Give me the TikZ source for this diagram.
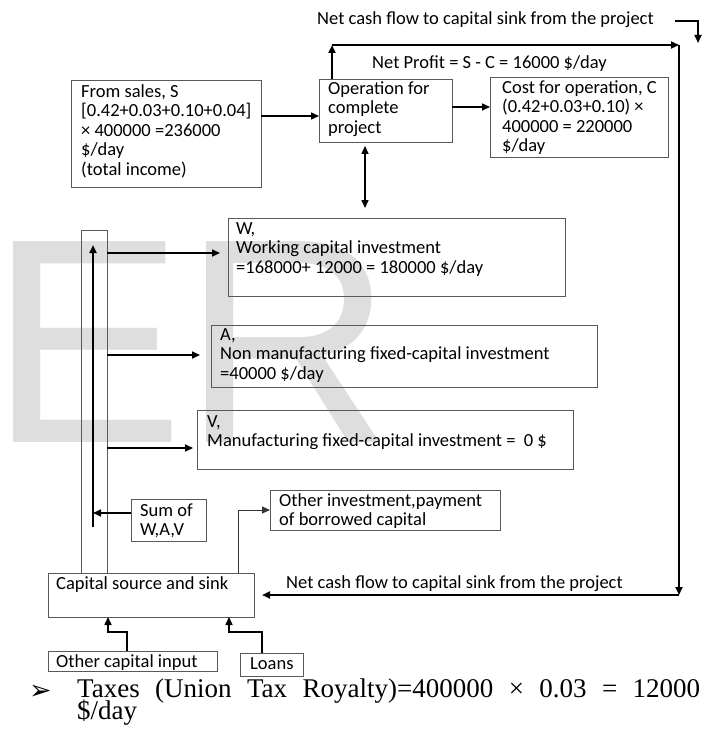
\documentclass[tikz,border=0pt]{standalone}
\usepackage{fontspec}
\usetikzlibrary{arrows.meta}
\newfontfamily\dfont{Carlito}
\newfontfamily\wmfont{Liberation Sans}
\newfontfamily\bodyfont{Liberation Serif}
\newfontfamily\symfont{DejaVu Sans}
\definecolor{boxgray}{gray}{0.35}
\definecolor{wmgray}{gray}{0.87}
\newcommand\tstr{\rule{0pt}{15pt}}
\begin{document}
\begin{tikzpicture}[x=1pt,y=-1pt,
  box/.style={draw=boxgray,line width=0.9pt,anchor=north west,inner sep=0pt,outer sep=0pt},
  txt/.style={anchor=north west,inner sep=0pt,align=left,font=\dfont\fontsize{18.5pt}{19.6pt}\selectfont},
  tip/.style={-{Triangle[length=8pt,width=7pt]}},
  arr/.style={tip,line width=1.6pt},
  heavy/.style={tip,line width=2.2pt},
  thinl/.style={tip,draw=black!80,line width=1pt},
  wm/.style={anchor=base west,inner sep=0pt,text=wmgray,font=\wmfont\fontsize{292pt}{292pt}\selectfont}]
\useasboundingbox (0,0) rectangle (719,738);

% watermark letters (side bearing of the E pulled back so its box starts at the ink)
\node[wm] (wmE) at (12,442) {\hspace*{-23pt}E};
\node[wm] (wmR) at (182,442) {R};

% boxes
\node[box,minimum width=190pt,minimum height=107pt] (sales) at (71,80) {};
\node[box,minimum width=133pt,minimum height=63pt] (op) at (319,79) {};
\node[box,minimum width=178pt,minimum height=80pt] (cost) at (490,77) {};
\node[box,minimum width=337pt,minimum height=78pt] (wbox) at (228,218) {};
\node[box,minimum width=386pt,minimum height=62pt] (abox) at (211,325) {};
\node[box,minimum width=376pt,minimum height=59pt] (vbox) at (197,410) {};
\node[box,minimum width=26pt,minimum height=343pt] (column) at (81,230) {};
\node[box,minimum width=75pt,minimum height=42pt] (sumbox) at (131,499) {};
\node[box,minimum width=230pt,minimum height=40pt] (othinv) at (270,490) {};
\node[box,minimum width=206pt,minimum height=44pt] (capbox) at (48,573) {};
\node[box,minimum width=169pt,minimum height=20pt] (othcap) at (48,651) {};
\node[box,minimum width=63pt,minimum height=23pt] (loans) at (240,653) {};

% texts
\node[txt] (salesT) at (81,82) {\tstr From sales, S\\{[}0.42+0.03+0.10+0.04{]}\\× 400000 =236000\\\$/day\\(total income)};
\node[txt] (opT) at (328,79) {\tstr Operation for\\complete\\project};
\node[txt] (costT) at (502,78) {\tstr Cost for operation, C\\(0.42+0.03+0.10) ×\\400000 = 220000\\\$/day};
\node[txt] (profitT) at (372,53) {\tstr Net Profit = S - C = 16000 \$/day};
\node[txt] (topT) at (317,9) {\tstr Net cash flow to capital sink from the project};
\node[txt] (wT) at (236,219) {\tstr W,\\Working capital investment\\=168000+ 12000 = 180000 \$/day};
\node[txt] (aT) at (220,325) {\tstr A,\\Non manufacturing fixed-capital investment\\=40000 \$/day};
\node[txt] (vT) at (207,412) {\tstr V,\\Manufacturing fixed-capital investment = \ 0 \$};
\node[txt] (sumT) at (140,501) {\tstr Sum of\\W,A,V};
\node[txt] (othinvT) at (279,491) {\tstr Other investment,payment\\of borrowed capital};
\node[txt] (capT) at (56,574) {\tstr Capital source and sink};
\node[txt] (botT) at (286,573) {\tstr Net cash flow to capital sink from the project};
\node[txt] (othcapT) at (56,652) {\tstr Other capital input};
\node[txt] (loansT) at (250,654) {\tstr Loans};

% helper levels
\coordinate (ySales) at (0,116);
\coordinate (yCost) at (0,107);
\coordinate (xDbl) at (365,0);
\coordinate (yW) at (0,253);
\coordinate (yA) at (0,355);
\coordinate (yV) at (0,448);
\coordinate (ySum) at (0,513);
\coordinate (xOI) at (238,0);

% main flow
\draw[arr] (sales.east |- ySales) -- (op.west |- ySales);
\draw[arr] (op.east |- yCost) -- (cost.west |- yCost);
\draw[arr,{Triangle[length=8pt,width=7pt]}-{Triangle[length=8pt,width=7pt]},shorten <=4pt,shorten >=10pt]
  (op.south -| xDbl) -- (wbox.north -| xDbl);

% net cash flow loop
\coordinate (lpA) at (332,45);
\coordinate (lpB) at (679,45);
\coordinate (lpC) at (679,595);
\draw[heavy] (op.north -| lpA) -- (lpA);
\draw[heavy] (lpA) -- (lpB);
\draw[heavy] (lpB) -- (lpC);
\draw[heavy,shorten >=8pt] (lpC) -- (capbox.east |- lpC);

% small bent arrow beside the top label
\coordinate (smA) at (675,21);
\coordinate (smB) at (698,21);
\coordinate (smC) at (698,43);
\draw[arr] (smA) -- (smB) -- (smC);

% capital column
\coordinate (upB) at (93,527);
\coordinate (upT) at (93,245);
\draw[heavy] (upB) -- (upT);
\draw[arr,shorten >=8pt] (column.east |- yW) -- (wbox.west |- yW);
\draw[arr,shorten >=11pt] (column.east |- yA) -- (abox.west |- yA);
\draw[arr,shorten >=4pt] (column.east |- yV) -- (vbox.west |- yV);
\draw[arr] (sumbox.west |- ySum) -- (upB |- ySum);

% other investment
\draw[thinl] (capbox.north -| xOI) |- (othinv.west);

% inputs to the capital source
\coordinate (ocA) at (127,632);
\coordinate (ocB) at (108,632);
\draw[arr] (othcap.north -| ocA) -- (ocA) -- (ocB) -- (capbox.south -| ocB);
\coordinate (lnA) at (262,632);
\coordinate (lnB) at (229,632);
\draw[arr] (loans.north -| lnA) -- (lnA) -- (lnB) -- (capbox.south -| lnB);

% bullet line
\node[anchor=base west,inner sep=0pt,font=\symfont\fontsize{27pt}{27pt}\selectfont] (bullet) at (29,699) {➢};
\node[anchor=base west,inner sep=0pt,font=\bodyfont\fontsize{27pt}{22pt}\selectfont] (taxes1) at (77,697)
  {\makebox[623pt][s]{Taxes (Union Tax Royalty)=400000 × 0.03 = 12000}};
\node[anchor=base west,inner sep=0pt,font=\bodyfont\fontsize{27pt}{22pt}\selectfont] (taxes2) at (77,719) {\$/day};
\end{tikzpicture}
\end{document}
